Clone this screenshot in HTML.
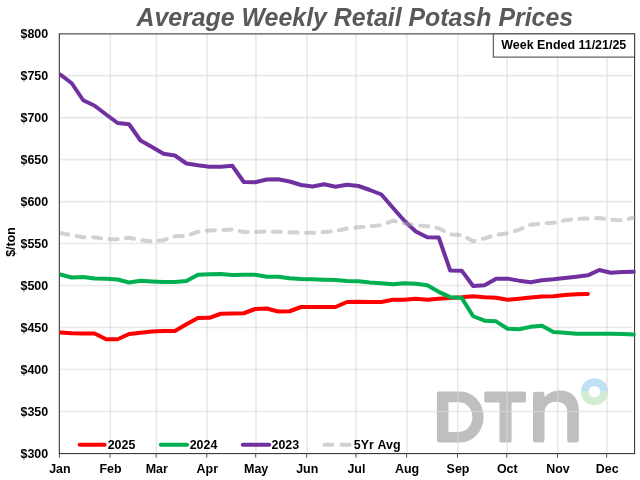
<!DOCTYPE html>
<html><head><meta charset="utf-8"><title>Average Weekly Retail Potash Prices</title>
<style>
html,body{margin:0;padding:0;background:#fff;}
body{width:640px;height:480px;overflow:hidden;}
svg{display:block;will-change:transform;}
svg text{font-family:"Liberation Sans",sans-serif;font-weight:bold;}
</style></head><body>
<svg width="640" height="480" viewBox="0 0 640 480">
<rect x="0" y="0" width="640" height="480" fill="#fff"/>
<!-- DTN watermark -->
<g id="logo" fill="#bfbfbf">
<path fill-rule="evenodd" d="M439.1,391.5 H460.5 A23.1,25.5 0 0 1 460.5,442.5 H439.1 A2.2,2.2 0 0 1 436.9,440.3 V393.7 A2.2,2.2 0 0 1 439.1,391.5 Z M448.4,402.2 V431.9 H459 A13.4,14.85 0 0 0 459,402.2 Z"/>
<path transform="translate(0,0.3)" d="M486.4,391.2 H523.8 A2.2,2.2 0 0 1 526,393.4 V400.1 A2.2,2.2 0 0 1 523.8,402.3 H511.6 V440.1 A2.2,2.2 0 0 1 509.4,442.3 H501.7 A2.2,2.2 0 0 1 499.5,440.1 V402.3 H486.4 A2.2,2.2 0 0 1 484.2,400.1 V393.4 A2.2,2.2 0 0 1 486.4,391.2 Z"/>
<path d="M535.2,391.7 H542.3 A2.2,2.2 0 0 1 544.5,393.9 V397.2 C548,392.8 553.5,390.4 560.5,390.4 C572,390.4 578.8,398 578.8,410 V440.3 A2.2,2.2 0 0 1 576.6,442.5 H569.4 A2.2,2.2 0 0 1 567.2,440.3 V412 C567.2,405 563,401.7 556,401.7 C549,401.7 544.5,406 544.5,413 V440.3 A2.2,2.2 0 0 1 542.3,442.5 H535.2 A2.2,2.2 0 0 1 533,440.3 V393.9 A2.2,2.2 0 0 1 535.2,391.7 Z"/>
</g>
<path fill="#bfe1f4" d="M580.90,391.7 A13.6,13.6 0 0 1 608.10,391.7 H600.30 A5.8,5.8 0 0 0 588.70,391.7 Z"/>
<path fill="#d3edd3" d="M580.90,391.7 A13.6,13.6 0 0 0 608.10,391.7 H600.30 A5.8,5.8 0 0 1 588.70,391.7 Z"/>
<!-- gridlines -->
<g stroke="#d9d9d9" stroke-opacity="0.6" stroke-width="1.6" fill="none"><line x1="110.30" y1="34.40" x2="110.30" y2="451.90"/><line x1="156.45" y1="34.40" x2="156.45" y2="451.90"/><line x1="207.05" y1="34.40" x2="207.05" y2="451.90"/><line x1="255.95" y1="34.40" x2="255.95" y2="451.90"/><line x1="306.95" y1="34.40" x2="306.95" y2="451.90"/><line x1="356.15" y1="34.40" x2="356.15" y2="451.90"/><line x1="406.85" y1="34.40" x2="406.85" y2="451.90"/><line x1="457.75" y1="34.40" x2="457.75" y2="451.90"/><line x1="507.00" y1="34.40" x2="507.00" y2="451.90"/><line x1="557.75" y1="34.40" x2="557.75" y2="451.90"/><line x1="606.90" y1="34.40" x2="606.90" y2="451.90"/><line x1="60.30" y1="75.67" x2="632.80" y2="75.67"/><line x1="60.30" y1="117.64" x2="632.80" y2="117.64"/><line x1="60.30" y1="159.61" x2="632.80" y2="159.61"/><line x1="60.30" y1="201.58" x2="632.80" y2="201.58"/><line x1="60.30" y1="243.55" x2="632.80" y2="243.55"/><line x1="60.30" y1="285.52" x2="632.80" y2="285.52"/><line x1="60.30" y1="327.49" x2="632.80" y2="327.49"/><line x1="60.30" y1="369.46" x2="632.80" y2="369.46"/><line x1="60.30" y1="411.43" x2="632.80" y2="411.43"/></g>
<!-- plot border -->
<rect x="59.3" y="33.9" width="575.3000000000001" height="419.70000000000005" fill="none" stroke="#262626" stroke-width="1"/>
<!-- series -->
<clipPath id="pc"><rect x="59.75" y="33.9" width="577.8000000000001" height="419.70000000000005"/></clipPath>
<g fill="none" stroke-linejoin="round" stroke-linecap="round" stroke-width="4" clip-path="url(#pc)">
<polyline stroke="#ff0000" points="60.26,332.50 71.73,333.25 83.20,333.50 94.67,333.50 106.14,339.25 117.60,339.25 129.07,334.00 140.54,332.75 152.01,331.50 163.48,331.00 174.95,331.00 186.42,324.25 197.89,318.00 209.36,317.85 220.83,313.75 232.29,313.50 243.76,313.25 255.23,309.00 266.70,308.50 278.17,311.50 289.64,311.25 301.11,307.00 312.58,307.00 324.05,307.00 335.52,307.00 346.98,302.00 358.45,301.75 369.92,302.00 381.39,302.00 392.86,299.75 404.33,299.75 415.80,298.75 427.27,299.75 438.74,298.75 450.21,298.00 461.67,297.25 473.14,296.15 484.61,297.35 496.08,297.75 507.55,299.75 519.02,298.75 530.49,297.50 541.96,296.50 553.43,296.25 564.90,295.00 576.37,294.25 587.83,294.00"/>
<polyline stroke="#00b050" points="60.26,274.50 71.73,277.50 83.20,277.00 94.67,278.50 106.14,278.75 117.60,279.50 129.07,282.50 140.54,280.75 152.01,281.50 163.48,282.00 174.95,282.00 186.42,281.00 197.89,274.75 209.36,274.25 220.83,274.00 232.29,275.00 243.76,274.75 255.23,274.75 266.70,276.75 278.17,276.75 289.64,278.25 301.11,279.00 312.58,279.25 324.05,279.75 335.52,280.00 346.98,281.00 358.45,281.15 369.92,282.50 381.39,283.25 392.86,284.25 404.33,283.25 415.80,283.75 427.27,285.25 438.74,291.85 450.21,297.15 461.67,297.85 473.14,316.25 484.61,320.65 496.08,321.35 507.55,328.75 519.02,329.25 530.49,326.85 541.96,325.85 553.43,332.00 564.90,332.85 576.37,333.85 587.83,333.85 599.30,333.75 610.77,333.75 622.24,334.00 633.71,334.50"/>
<polyline stroke="#7030a0" points="60.26,74.50 71.73,83.25 83.20,100.25 94.67,105.75 106.14,114.50 117.60,123.00 129.07,124.25 140.54,140.50 152.01,147.00 163.48,153.75 174.95,155.50 186.42,163.50 197.89,165.25 209.36,166.65 220.83,166.75 232.29,165.75 243.76,182.00 255.23,182.25 266.70,179.50 278.17,179.25 289.64,181.50 301.11,185.00 312.58,186.50 324.05,184.25 335.52,186.75 346.98,184.75 358.45,186.00 369.92,190.00 381.39,194.50 392.86,207.75 404.33,220.75 415.80,231.50 427.27,237.25 438.74,237.50 450.21,270.50 461.67,270.65 473.14,286.00 484.61,285.25 496.08,278.85 507.55,278.65 519.02,280.65 530.49,282.25 541.96,280.25 553.43,279.35 564.90,278.00 576.37,276.65 587.83,275.35 599.30,270.00 610.77,272.75 622.24,272.00 633.71,271.75"/>
<polyline stroke="#a6a6a6" stroke-opacity="0.5" stroke-dasharray="8.2 8.37" points="60.26,233.00 71.73,235.25 83.20,237.25 94.67,237.25 106.14,239.25 117.60,239.25 129.07,237.75 140.54,240.00 152.01,241.50 163.48,240.25 174.95,236.25 186.42,236.00 197.89,231.75 209.36,230.50 220.83,230.00 232.29,229.50 243.76,232.00 255.23,232.00 266.70,231.50 278.17,231.75 289.64,232.25 301.11,232.75 312.58,232.75 324.05,232.00 335.52,231.00 346.98,228.50 358.45,227.35 369.92,226.25 381.39,225.25 392.86,220.75 404.33,223.50 415.80,225.25 427.27,226.25 438.74,228.25 450.21,234.50 461.67,235.00 473.14,241.25 484.61,238.35 496.08,234.85 507.55,233.35 519.02,229.75 530.49,224.75 541.96,223.50 553.43,222.75 564.90,220.25 576.37,219.00 587.83,218.50 599.30,218.00 610.77,219.75 622.24,220.25 633.71,217.75"/>
</g>
<g stroke="#4d4d4d" stroke-width="1"><line x1="59.35" y1="453.60" x2="59.35" y2="457.60"/><line x1="110.05" y1="453.60" x2="110.05" y2="457.60"/><line x1="156.20" y1="453.60" x2="156.20" y2="457.60"/><line x1="206.80" y1="453.60" x2="206.80" y2="457.60"/><line x1="255.70" y1="453.60" x2="255.70" y2="457.60"/><line x1="306.70" y1="453.60" x2="306.70" y2="457.60"/><line x1="355.90" y1="453.60" x2="355.90" y2="457.60"/><line x1="406.60" y1="453.60" x2="406.60" y2="457.60"/><line x1="457.50" y1="453.60" x2="457.50" y2="457.60"/><line x1="506.75" y1="453.60" x2="506.75" y2="457.60"/><line x1="557.50" y1="453.60" x2="557.50" y2="457.60"/><line x1="606.65" y1="453.60" x2="606.65" y2="457.60"/></g>
<!-- week box -->
<rect x="493.3" y="33.9" width="141.30" height="23.2" fill="#fff" stroke="#404040" stroke-width="1"/>
<text x="563.8" y="49.3" font-size="12.45" text-anchor="middle" fill="#000">Week Ended 11/21/25</text>
<!-- title -->
<text x="354.8" y="25.6" font-size="24.9" font-style="italic" text-anchor="middle" fill="#595959">Average Weekly Retail Potash Prices</text>
<!-- axis labels -->
<g font-size="12.45" fill="#000"><text x="48.2" y="37.80" text-anchor="end">$800</text><text x="48.2" y="79.77" text-anchor="end">$750</text><text x="48.2" y="121.74" text-anchor="end">$700</text><text x="48.2" y="163.71" text-anchor="end">$650</text><text x="48.2" y="205.68" text-anchor="end">$600</text><text x="48.2" y="247.65" text-anchor="end">$550</text><text x="48.2" y="289.62" text-anchor="end">$500</text><text x="48.2" y="331.59" text-anchor="end">$450</text><text x="48.2" y="373.56" text-anchor="end">$400</text><text x="48.2" y="415.53" text-anchor="end">$350</text><text x="48.2" y="457.50" text-anchor="end">$300</text><text x="59.85" y="472.8" text-anchor="middle">Jan</text><text x="110.55" y="472.8" text-anchor="middle">Feb</text><text x="156.70" y="472.8" text-anchor="middle">Mar</text><text x="207.30" y="472.8" text-anchor="middle">Apr</text><text x="256.20" y="472.8" text-anchor="middle">May</text><text x="307.20" y="472.8" text-anchor="middle">Jun</text><text x="356.40" y="472.8" text-anchor="middle">Jul</text><text x="407.10" y="472.8" text-anchor="middle">Aug</text><text x="458.00" y="472.8" text-anchor="middle">Sep</text><text x="507.25" y="472.8" text-anchor="middle">Oct</text><text x="558.00" y="472.8" text-anchor="middle">Nov</text><text x="607.15" y="472.8" text-anchor="middle">Dec</text>
<text transform="translate(15.2,242) rotate(-90)" text-anchor="middle">$/ton</text>
</g>
<!-- legend -->
<g fill="none" stroke-linecap="round" stroke-width="4">
<line x1="79.7" y1="444.7" x2="104.6" y2="444.7" stroke="#ff0000"/>
<line x1="160.8" y1="444.7" x2="187" y2="444.7" stroke="#00b050"/>
<line x1="242.8" y1="444.7" x2="269.2" y2="444.7" stroke="#7030a0"/>
<line x1="324.5" y1="444.7" x2="352" y2="444.7" stroke="#a6a6a6" stroke-opacity="0.5" stroke-dasharray="8 9"/>
</g>
<g font-size="12.45" fill="#000">
<text x="107.7" y="448.6">2025</text>
<text x="189.7" y="448.6">2024</text>
<text x="271.5" y="448.6">2023</text>
<text x="353.8" y="448.6" style="word-spacing:0.6px">5Yr Avg</text>
</g>
</svg>
</body></html>
